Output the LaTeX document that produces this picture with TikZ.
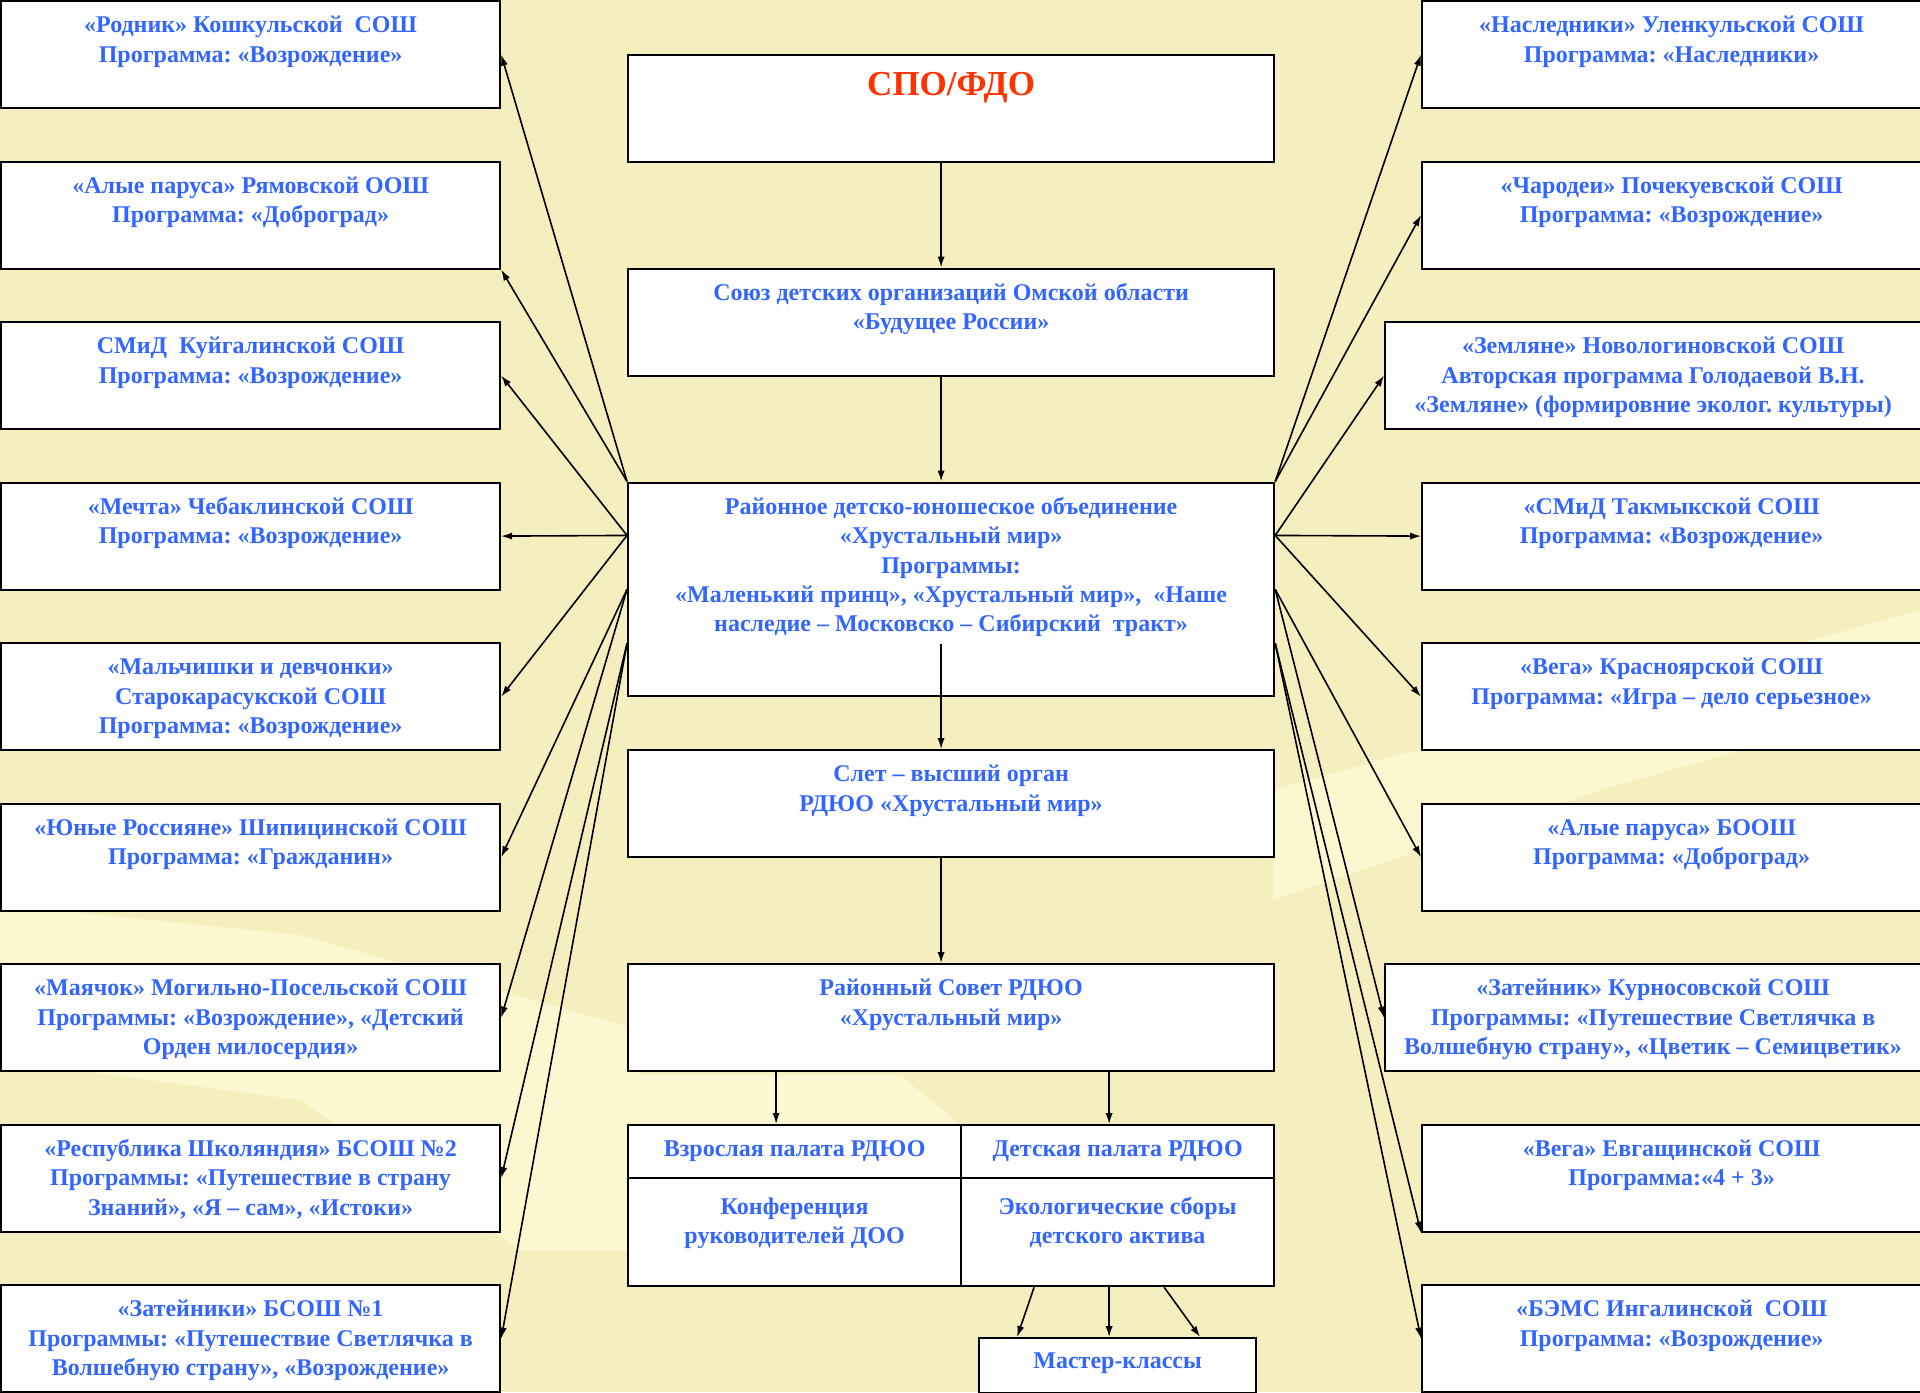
\documentclass[tikz,border=0pt]{standalone}
\usepackage{fontspec}
\setmainfont{Liberation Serif}
\usetikzlibrary{arrows.meta, positioning, calc}
\definecolor{bgyellow}{RGB}{245,239,191}
\definecolor{paleglow}{RGB}{251,247,208}
\definecolor{txtblue}{RGB}{51,102,255}
\definecolor{spored}{RGB}{255,51,0}
\frenchspacing
% text block pinned to the top of its box: [first baseline]{width}{height}{text}
\newcommand{\boxtxt}[4][15.8pt]{\parbox[c][#3][t]{#2}{\centering\rule{0pt}{#1}#4}}
\newcommand{\sidetxt}[1]{\boxtxt{249.5pt}{53.5pt}{#1}}
\newcommand{\widetxt}[1]{\boxtxt{268pt}{53.5pt}{#1}}
\newcommand{\midtxt}[1]{\boxtxt{323pt}{53.5pt}{#1}}

\begin{document}
\begin{tikzpicture}[x=0.5pt, y=-0.5pt,
  orgbox/.style={draw, line width=1.1pt, fill=white, anchor=north west, inner sep=0pt, text=txtblue, font=\fontsize{12}{14.7}\selectfont\bfseries},
  link/.style={-{Latex[length=5.5pt,width=3.6pt]}, line width=0.8pt}
]
  \useasboundingbox (0,0) rectangle (1920,1392);
  \fill[bgyellow] (0,0) rectangle (1920,1392);
  % faint brush strokes of the slide background
  \fill[paleglow] (0,905) -- (300,935) -- (640,1030) -- (640,1250) -- (520,1250) -- (300,1100) -- (0,1060) -- cycle;
  \fill[paleglow] (1273,790) -- (1920,610) -- (1920,700) -- (1600,790) -- (1273,900) -- cycle;
  \fill[paleglow] (640,1075) -- (900,1075) -- (960,1124) -- (640,1124) -- cycle;

  % left column
  \node[orgbox] (l1) at (0,0) {\sidetxt{«Родник» Кошкульской\ \ СОШ\\Программа: «Возрождение»}};
  \node[orgbox] (l2) at (0,160.5) {\sidetxt{«Алые паруса» Рямовской ООШ\\Программа: «Доброград»}};
  \node[orgbox] (l3) at (0,321) {\sidetxt{СМиД\ \ Куйгалинской СОШ\\Программа: «Возрождение»}};
  \node[orgbox] (l4) at (0,481.5) {\sidetxt{«Мечта» Чебаклинской СОШ\\Программа: «Возрождение»}};
  \node[orgbox] (l5) at (0,642) {\sidetxt{«Мальчишки и девчонки»\\Старокарасукской СОШ\\Программа: «Возрождение»}};
  \node[orgbox] (l6) at (0,802.5) {\sidetxt{«Юные Россияне» Шипицинской СОШ\\Программа: «Гражданин»}};
  \node[orgbox] (l7) at (0,963) {\sidetxt{«Маячок» Могильно-Посельской СОШ\\Программы: «Возрождение», «Детский\\Орден милосердия»}};
  \node[orgbox] (l8) at (0,1123.5) {\sidetxt{«Республика Школяндия» БСОШ №2\\Программы: «Путешествие в страну\\Знаний», «Я – сам», «Истоки»}};
  \node[orgbox] (l9) at (0,1284) {\sidetxt{«Затейники» БСОШ №1\\Программы: «Путешествие Светлячка в\\Волшебную страну», «Возрождение»}};

  % right column
  \node[orgbox] (r1) at (1421,0) {\sidetxt{«Наследники» Уленкульской СОШ\\Программа: «Наследники»}};
  \node[orgbox] (r2) at (1421,160.5) {\sidetxt{«Чародеи» Почекуевской СОШ\\Программа: «Возрождение»}};
  \node[orgbox] (r3) at (1384,321) {\widetxt{«Земляне» Новологиновской СОШ\\Авторская программа Голодаевой В.Н.\\«Земляне» (формировние эколог. культуры)}};
  \node[orgbox] (r4) at (1421,481.5) {\sidetxt{«СМиД Такмыкской СОШ\\Программа: «Возрождение»}};
  \node[orgbox] (r5) at (1421,642) {\sidetxt{«Вега» Красноярской СОШ\\Программа: «Игра – дело серьезное»}};
  \node[orgbox] (r6) at (1421,802.5) {\sidetxt{«Алые паруса» БООШ\\Программа: «Доброград»}};
  \node[orgbox] (r7) at (1384,963) {\widetxt{«Затейник» Курносовской СОШ\\Программы: «Путешествие Светлячка в\\Волшебную страну», «Цветик – Семицветик»}};
  \node[orgbox] (r8) at (1421,1123.5) {\sidetxt{«Вега» Евгащинской СОШ\\Программа:«4 + 3»}};
  \node[orgbox] (r9) at (1421,1284) {\sidetxt{«БЭМС Ингалинской\ \ СОШ\\Программа: «Возрождение»}};

  % middle column
  \node[orgbox] (spo) at (627,53.5) {\boxtxt[20.5pt]{323pt}{53.5pt}{\fontsize{17.5}{20}\selectfont\color{spored}СПО/ФДО}};
  \node[orgbox] (soyuz) at (627,267.5) {\midtxt{Союз детских организаций Омской области\\«Будущее России»}};
  \node[orgbox] (rdyuo) at (627,481.5) {\boxtxt{323pt}{106.75pt}{Районное детско-юношеское объединение\\«Хрустальный мир»\\Программы:\\«Маленький принц», «Хрустальный мир»,\ \ «Наше\\наследие – Московско – Сибирский\ \ тракт»}};
  \node[orgbox] (slet) at (627,749) {\midtxt{Слет – высший орган\\РДЮО «Хрустальный мир»}};
  \node[orgbox] (sovet) at (627,963) {\midtxt{Районный Совет РДЮО\\«Хрустальный мир»}};
  \node[orgbox] (vzr) at (627,1124) {\boxtxt{166.5pt}{26.5pt}{Взрослая палата РДЮО}};
  \node[orgbox] (det) at (960,1124) {\boxtxt{156.5pt}{26.5pt}{Детская палата РДЮО}};
  \node[orgbox] (konf) at (627,1177) {\boxtxt[18pt]{166.5pt}{54pt}{Конференция\\руководителей ДОО}};
  \node[orgbox] (eko) at (960,1177) {\boxtxt[18pt]{156.5pt}{54pt}{Экологические сборы\\детского актива}};
  \node[orgbox] (mk) at (978,1337) {\boxtxt[15.4pt]{138.5pt}{27.5pt}{Мастер-классы}};

  % spine
  \draw[link] ([xshift=-5pt]spo.south) -- ([xshift=-5pt]soyuz.north);
  \draw[link] ([xshift=-5pt]soyuz.south) -- ([xshift=-5pt]rdyuo.north);
  \coordinate (rdin) at ([xshift=-5pt,yshift=26.5pt]rdyuo.south);
  \draw[link] (rdin) -- ([xshift=-5pt]slet.north);
  \draw[link] ([xshift=-5pt]slet.south) -- ([xshift=-5pt]sovet.north);
  \coordinate (vzrtop) at ([xshift=-9.25pt]vzr.north);
  \coordinate (dettop) at ([xshift=-4.25pt]det.north);
  \draw[link] (vzrtop |- sovet.south) -- (vzrtop);
  \draw[link] (dettop |- sovet.south) -- (dettop);
  \draw[link] ([xshift=-41.75pt]eko.south) -- ([xshift=-50.25pt]mk.north);
  \draw[link] ([xshift=-4.25pt]eko.south) -- ([xshift=-4.25pt]mk.north);
  \draw[link] ([xshift=23.25pt]eko.south) -- ([xshift=41.25pt]mk.north);

  % fan to the schools
  \coordinate (lf1) at ($(rdyuo.north west)!.25!(rdyuo.south west)$);
  \coordinate (lf2) at ($(rdyuo.north west)!.5!(rdyuo.south west)$);
  \coordinate (lf3) at ($(rdyuo.north west)!.75!(rdyuo.south west)$);
  \coordinate (rf1) at ($(rdyuo.north east)!.25!(rdyuo.south east)$);
  \coordinate (rf2) at ($(rdyuo.north east)!.5!(rdyuo.south east)$);
  \coordinate (rf3) at ($(rdyuo.north east)!.75!(rdyuo.south east)$);
  \draw[link] (rdyuo.north west) -- (l1.east);
  \draw[link] (rdyuo.north west) -- (l2.south east);
  \draw[link] (lf1) -- (l3.east);
  \draw[link] (lf1) -- (l4.east);
  \draw[link] (lf1) -- (l5.east);
  \draw[link] (lf2) -- (l6.east);
  \draw[link] (lf2) -- (l7.east);
  \draw[link] (lf3) -- (l8.east);
  \draw[link] (lf3) -- (l9.east);
  \draw[link] (rdyuo.north east) -- (r1.west);
  \draw[link] (rdyuo.north east) -- (r2.west);
  \draw[link] (rf1) -- (r3.west);
  \draw[link] (rf1) -- (r4.west);
  \draw[link] (rf1) -- (r5.west);
  \draw[link] (rf2) -- (r6.west);
  \draw[link] (rf2) -- (r7.west);
  \draw[link] (rf3) -- (r8.south west);
  \draw[link] (rf3) -- (r9.west);
\end{tikzpicture}
\end{document}
